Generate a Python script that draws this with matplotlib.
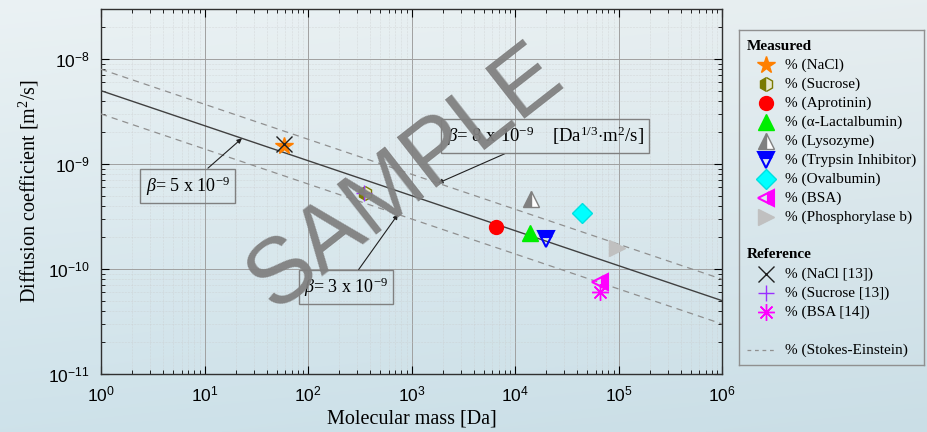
import numpy as np
import matplotlib
matplotlib.use("Agg")
import matplotlib.pyplot as plt
from matplotlib.ticker import FixedLocator, FuncFormatter, NullFormatter

plt.rcParams['font.family'] = ['Liberation Serif', 'DejaVu Serif']
plt.rcParams['mathtext.fontset'] = 'custom'
plt.rcParams['mathtext.rm'] = 'Liberation Serif'
plt.rcParams['mathtext.it'] = 'Liberation Serif:italic'
plt.rcParams['mathtext.bf'] = 'Liberation Serif:bold'
plt.rcParams['mathtext.sf'] = 'Liberation Sans'

# ---------------- data ----------------
measured_names = ['NaCl', 'Sucrose', 'Aprotinin', 'α-Lactalbumin', 'Lysozyme',
                  'Trypsin Inhibitor', 'Ovalbumin', 'BSA', 'Phosphorylase b']
measured_mass = [58.5, 355, 6500, 14000, 14300, 20000, 44000, 66000, 97000]
measured_D = [1.5e-9, 5.3e-10, 2.5e-10, 2.2e-10, 4.6e-10, 1.95e-10, 3.4e-10, 7.6e-11, 1.58e-10]

reference_names = ['NaCl [13]', 'Sucrose [13]', 'BSA [14]']
reference_mass = [58.5, 350, 67000]
reference_D = [1.55e-9, 5.3e-10, 6.0e-11]

beta_values = [5e-9, 8e-9, 3e-9]   # solid, dashed upper, dashed lower
x_ticks = [1e0, 1e1, 1e2, 1e3, 1e4, 1e5, 1e6]
y_ticks = [1e-11, 1e-10, 1e-9, 1e-8]

# ---------------- styles ----------------
measured_styles = [
    dict(marker='*', color='#ff7f00', ms=13, mec='#ff7f00'),
    dict(marker='h', color='#7a7a00', ms=10, mec='#7a7a00', fillstyle='left', markerfacecoloralt='#e6e6cc'),
    dict(marker='o', color='#ff0000', ms=10, mec='#ff0000'),
    dict(marker='^', color='#00ee00', ms=11, mec='#00ee00'),
    dict(marker='^', color='#808080', ms=11, mec='#808080', fillstyle='left', markerfacecoloralt='white'),
    dict(marker='v', color='#0000ff', ms=11, mec='#0000ff', fillstyle='top', markerfacecoloralt='none', mew=1.5),
    dict(marker='D', color='#00ffff', ms=10, mec='#00e0e0'),
    dict(marker='<', color='#ff00ff', ms=11, mec='#ff00ff', fillstyle='right', markerfacecoloralt='none', mew=1.5),
    dict(marker='>', color='#c0c0c0', ms=11, mec='#c0c0c0'),
]
reference_styles = [
    dict(marker='x', color='#202020', ms=11, mew=1.0),
    dict(marker='+', color='#9a30ff', ms=11, mew=1.0),
    dict(marker=(8, 2, 0), color='#ff00ff', ms=12, mew=1.0),
]

W, H = 928, 432
fig = plt.figure(figsize=(W / 100, H / 100), dpi=100)

# background gradient (pixel image)
yy = np.linspace(0, 1, H)[:, None, None]
xx = np.linspace(0, 1, W)[None, :, None]
top = np.array([233, 240, 242]) / 255
bot = np.array([204, 224, 232]) / 255
grad = np.clip(top * (1 - yy) + bot * yy - 0.015 * (xx - 0.5), 0, 1)
fig.figimage(grad, xo=0, yo=0, origin='upper', zorder=-10)

ax = fig.add_axes([101 / W, 58 / H, 621 / W, 365 / H])
ax.set_facecolor('none')
ax.set_xscale('log')
ax.set_yscale('log')
ax.set_xlim(1, 1e6)
ax.set_ylim(1e-11, 3e-8)

x_minor = [s * t for t in x_ticks[:-1] for s in range(2, 10)]
y_minor = [s * t for t in y_ticks for s in range(2, 10) if s * t <= 3e-8]
ax.xaxis.set_major_locator(FixedLocator(x_ticks))
ax.yaxis.set_major_locator(FixedLocator(y_ticks))
ax.xaxis.set_minor_locator(FixedLocator(x_minor))
ax.yaxis.set_minor_locator(FixedLocator(y_minor))
fmt = FuncFormatter(lambda v, p: r'$\mathsf{10^{%d}}$' % int(round(np.log10(v))))
ax.xaxis.set_major_formatter(fmt)
ax.yaxis.set_major_formatter(fmt)
ax.xaxis.set_minor_formatter(NullFormatter())
ax.yaxis.set_minor_formatter(NullFormatter())

ax.grid(True, which='major', color='#a0a0a0', lw=0.7)
ax.grid(True, which='minor', color='#c8c8c8', lw=0.4, ls=':')
ax.set_axisbelow(True)

ax.tick_params(which='both', direction='in', top=True, right=True)
ax.tick_params(which='major', length=6, width=0.8, labelsize=12.5, pad=8)
ax.tick_params(which='minor', length=3, width=0.6)
for s in ax.spines.values():
    s.set_linewidth(1.0)
    s.set_color('#303030')

ax.set_xlabel('Molecular mass [Da]', fontsize=14.5, labelpad=3)
ax.set_ylabel('Diffusion coefficient [m$^2$/s]', fontsize=14.5, labelpad=5)

# Stokes-Einstein lines
m = np.logspace(0, 6, 50)
ax.plot(m, beta_values[0] * m ** (-1 / 3), color='#404040', lw=1.0, zorder=3)
ax.plot(m, beta_values[1] * m ** (-1 / 3), color='#909090', lw=0.9, ls=(0, (5, 4)), zorder=3)
ax.plot(m, beta_values[2] * m ** (-1 / 3), color='#909090', lw=0.9, ls=(0, (5, 4)), zorder=3)

for x, y, st in zip(measured_mass, measured_D, measured_styles):
    ax.plot([x], [y], ls='none', zorder=5, **st)
for x, y, st in zip(reference_mass, reference_D, reference_styles):
    ax.plot([x], [y], ls='none', zorder=6, **st)

box = dict(boxstyle='square,pad=0.3', fc='none', ec='#808080', lw=1.0)
arr = dict(arrowstyle='-|>', color='#202020', lw=0.8, mutation_scale=7, shrinkA=0, shrinkB=0)

def on_line(b, mm):
    return b * mm ** (-1 / 3)

ax.annotate(r'$\beta$= 5 x 10$^{-9}$', xy=(23, on_line(beta_values[0], 23)), xytext=(6.9, 6.2e-10),
            ha='center', va='center', fontsize=13, bbox=box, arrowprops=arr, zorder=7)
ax.annotate(r'$\beta$= 3 x 10$^{-9}$', xy=(740, on_line(beta_values[2], 740)), xytext=(233, 6.7e-11),
            ha='center', va='center', fontsize=13, bbox=box, arrowprops=arr, zorder=7)
ax.annotate(r'$\beta$= 8 x 10$^{-9}$    [Da$^{1/3}$$\cdot$m$^2$/s]', xy=(1800, on_line(beta_values[1], 1800)),
            xytext=(19500, 1.85e-9), ha='center', va='center', fontsize=13.5, bbox=box, arrowprops=arr, zorder=7)

# legend panel (drawn in pixel coords)
lg = fig.add_axes([739 / W, (H - 365) / H, 185 / W, 335 / H])
lg.set_xlim(0, 185)
lg.set_ylim(335, 0)
lg.set_xticks([])
lg.set_yticks([])
lg.set_facecolor('none')
for s in lg.spines.values():
    s.set_color('#909090')
    s.set_linewidth(1.0)

fs = 11
row = lambda k: 16 + 19 * k
lg.text(8, row(0), 'Measured', fontsize=fs, fontweight='bold', va='center')
for k, (name, st) in enumerate(zip(measured_names, measured_styles), start=1):
    lg.plot([27], [row(k)], ls='none', **st)
    lg.text(46, row(k), '% (' + name + ')', fontsize=fs, va='center')
lg.text(8, row(11), 'Reference', fontsize=fs, fontweight='bold', va='center')
for k, (name, st) in enumerate(zip(reference_names, reference_styles), start=12):
    lg.plot([27], [row(k)], ls='none', **st)
    lg.text(46, row(k), '% (' + name + ')', fontsize=fs, va='center')
lg.plot([8, 38], [row(16), row(16)], color='#909090', lw=0.9, ls=(0, (3, 3)))
lg.text(46, row(16), '% (Stokes-Einstein)', fontsize=fs, va='center')

# watermark
fig.text(406 / W, 1 - 178 / H, 'SAMPLE', fontsize=66, family='Liberation Sans', color='#808080',
         rotation=38, ha='center', va='center', rotation_mode='anchor', alpha=0.95, zorder=20)

fig.savefig('out.png', dpi=100)
